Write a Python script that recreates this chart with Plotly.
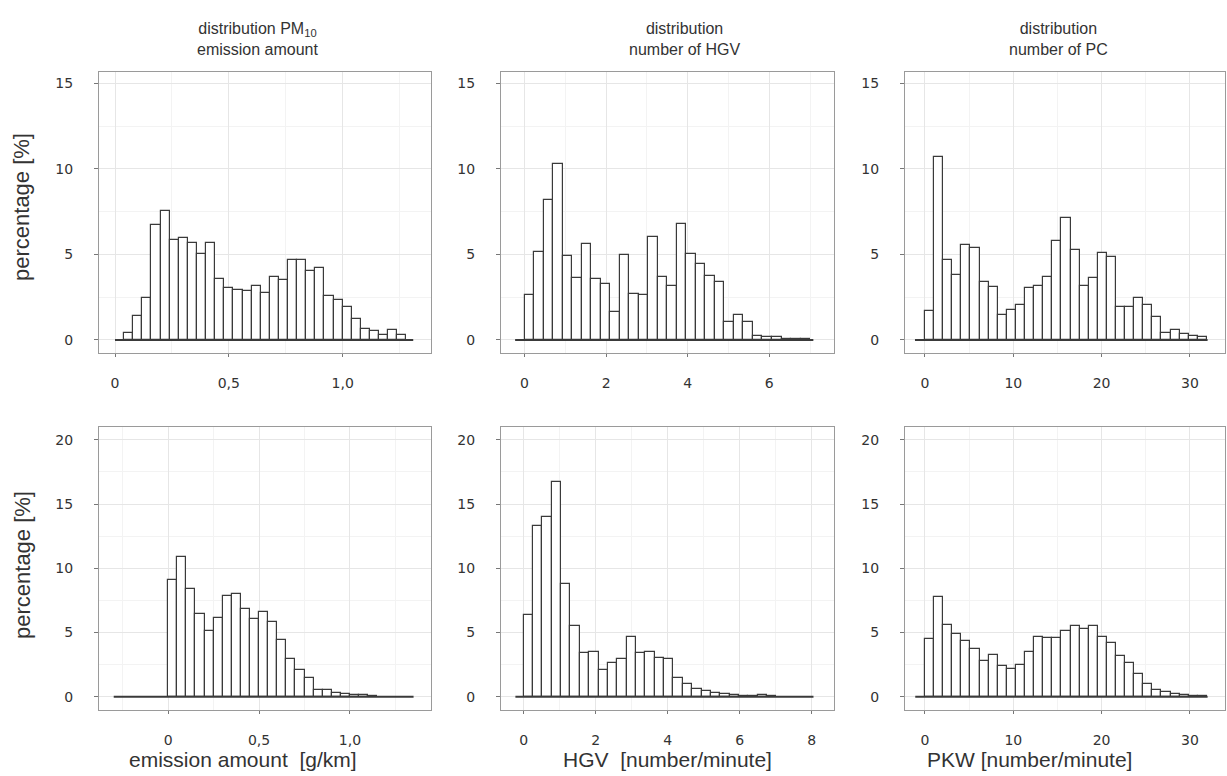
import plotly.graph_objects as go

W, H = 1227, 776

# ---------------- data (percentages) ----------------
pm10_top_start, pm10_top_width = 0.04, 0.04
pm10_top = [0.43, 1.42, 2.48, 6.73, 7.54, 5.85, 5.98, 5.65, 5.0, 5.65, 3.59, 3.02, 2.94, 2.88,
            3.18, 2.75, 3.66, 3.51, 4.70, 4.70, 4.05, 4.19, 2.59, 2.34, 1.93, 1.25, 0.62, 0.51,
            0.27, 0.58, 0.31]
pm10_top_range = [0.0, 1.31]

hgv_top_start, hgv_top_width = 0.0, 7.0 / 30
hgv_top = [2.61, 5.12, 8.2, 10.31, 4.9, 3.65, 5.59, 3.57, 3.25, 1.65, 4.98, 2.71, 2.61, 6.0,
           3.69, 3.16, 6.8, 5.0, 4.43, 3.73, 3.37, 1.08, 1.45, 1.08, 0.25, 0.18, 0.18, 0.08,
           0.04, 0.03]
hgv_top_range = [-0.23, 7.08]

pc_top_start, pc_top_width = 0.0, 1.03
pc_top = [1.70, 10.72, 4.68, 3.80, 5.54, 5.40, 3.41, 3.07, 1.47, 1.78, 2.07, 3.01, 3.13, 3.68,
          5.79, 7.10, 5.28, 3.17, 3.64, 5.07, 4.83, 1.90, 1.90, 2.47, 2.02, 1.33, 0.43, 0.59,
          0.35, 0.25, 0.20]
pc_top_range = [-1.13, 32.0]

pm10_bot_start, pm10_bot_width = 0.0, 0.05
pm10_bot = [9.09, 10.91, 8.39, 6.44, 5.12, 6.13, 7.87, 8.0, 6.86, 6.05, 6.60, 5.79, 4.44, 2.96,
            2.08, 1.43, 0.55, 0.55, 0.29, 0.21, 0.13, 0.13, 0.05]
pm10_bot_range = [-0.30, 1.35]

hgv_bot_start, hgv_bot_width = 0.0, 0.26
hgv_bot = [6.34, 13.3, 14.03, 16.75, 8.81, 5.51, 3.43, 3.48, 2.10, 2.65, 2.96, 4.68, 3.43, 3.48,
           2.99, 2.94, 1.48, 0.95, 0.62, 0.42, 0.30, 0.20, 0.12, 0.08, 0.05, 0.10, 0.03]
hgv_bot_range = [-0.23, 8.05]

pc_bot_start, pc_bot_width = 0.0, 1.03
pc_bot = [4.47, 7.77, 5.61, 4.86, 4.34, 3.71, 2.81, 3.25, 2.39, 2.18, 2.44, 3.45, 4.65, 4.55,
          4.60, 5.12, 5.51, 5.30, 5.51, 4.65, 4.21, 3.19, 2.60, 1.79, 1.0, 0.55, 0.35, 0.22,
          0.12, 0.06, 0.03]
pc_bot_range = [-1.1, 32.0]

pm10_ticks = [0, 0.5, 1.0]
pm10_ticktext = ["0", "0,5", "1,0"]
hgv_top_ticks = [0, 2, 4, 6]
hgv_bot_ticks = [0, 2, 4, 6, 8]
pc_ticks = [0, 10, 20, 30]
y_top_ticks = [0, 5, 10, 15]
y_bot_ticks = [0, 5, 10, 15, 20]

col_titles = ["distribution PM<sub>10</sub><br>emission amount",
              "distribution<br>number of HGV",
              "distribution<br>number of PC"]
x_titles = ["emission amount&nbsp;&nbsp;[g/km]", "HGV&nbsp;&nbsp;[number/minute]",
            "PKW [number/minute]"]
y_title = "percentage [%]"

# ---------------- layout geometry (pixels) ----------------
cols_px = [(99, 431), (501, 834), (905, 1225)]
rows_px = [(72, 353), (427, 710)]

panels = [
    (0, 0, pm10_top_start, pm10_top_width, pm10_top, pm10_top_range, [-0.0703, 1.388],
     pm10_ticks, pm10_ticktext, [0.25, 0.75, 1.25]),
    (0, 1, hgv_top_start, hgv_top_width, hgv_top, hgv_top_range, [-0.576, 7.586],
     hgv_top_ticks, [str(v) for v in hgv_top_ticks], [1, 3, 5, 7]),
    (0, 2, pc_top_start, pc_top_width, pc_top, pc_top_range, [-2.26, 33.97],
     pc_ticks, [str(v) for v in pc_ticks], [5, 15, 25]),
    (1, 0, pm10_bot_start, pm10_bot_width, pm10_bot, pm10_bot_range, [-0.381, 1.446],
     pm10_ticks, pm10_ticktext, [-0.25, 0.25, 0.75, 1.25]),
    (1, 1, hgv_bot_start, hgv_bot_width, hgv_bot, hgv_bot_range, [-0.63, 8.62],
     hgv_bot_ticks, [str(v) for v in hgv_bot_ticks], [1, 3, 5, 7]),
    (1, 2, pc_bot_start, pc_bot_width, pc_bot, pc_bot_range, [-2.26, 33.97],
     pc_ticks, [str(v) for v in pc_ticks], [5, 15, 25]),
]

yranges = [[-0.76, 15.66], [-1.04, 21.0]]
yticks = [y_top_ticks, y_bot_ticks]
yminor = [[2.5, 7.5, 12.5], [2.5, 7.5, 12.5, 17.5]]

fig = go.Figure()
layout = {}
font_ticks = dict(family="DejaVu Sans", size=14, color="#333333")
edge = "#3a3a3a"

for idx, (r, c, start, width, vals, brange, xr, xt, xtt, xmin) in enumerate(panels):
    n = idx + 1
    xa = "x" if n == 1 else f"x{n}"
    ya = "y" if n == 1 else f"y{n}"
    centers = [start + width * (i + 0.5) for i in range(len(vals))]
    fig.add_trace(go.Scatter(x=brange, y=[0, 0], mode="lines",
                             line=dict(color=edge, width=2), xaxis=xa, yaxis=ya,
                             showlegend=False, hoverinfo="skip"))
    fig.add_trace(go.Bar(x=centers, y=vals, width=width, xaxis=xa, yaxis=ya,
                         marker=dict(color="white", line=dict(color=edge, width=1.2)),
                         showlegend=False))
    x0, x1 = cols_px[c]
    y0, y1 = rows_px[r]
    xkey = "xaxis" if n == 1 else f"xaxis{n}"
    ykey = "yaxis" if n == 1 else f"yaxis{n}"
    layout[xkey] = dict(domain=[x0 / W, x1 / W], range=xr, anchor=ya,
                        tickmode="array", tickvals=xt, ticktext=xtt,
                        showline=True, mirror=True, linecolor="#9a9a9a", linewidth=1,
                        ticks="outside", ticklen=3, tickcolor="#777", tickwidth=1,
                        ticklabelstandoff=14, tickfont=font_ticks,
                        showgrid=True, gridcolor="#e6e6e6", gridwidth=1, zeroline=False,
                        minor=dict(tickvals=xmin, showgrid=True, gridcolor="#f3f3f3",
                                   ticks=""),
                        fixedrange=True)
    layout[ykey] = dict(domain=[1 - y1 / H, 1 - y0 / H], range=yranges[r], anchor=xa,
                        tickmode="array", tickvals=yticks[r],
                        ticktext=[str(v) for v in yticks[r]],
                        showline=True, mirror=True, linecolor="#9a9a9a", linewidth=1,
                        ticks="outside", ticklen=4, tickcolor="#777", tickwidth=1,
                        ticklabelstandoff=18, tickfont=font_ticks,
                        showgrid=True, gridcolor="#e6e6e6", gridwidth=1, zeroline=False,
                        minor=dict(tickvals=yminor[r], showgrid=True, gridcolor="#f3f3f3",
                                   ticks=""),
                        fixedrange=True)

annotations = []
title_x = [258, 684, 1058]
for i, t in enumerate(col_titles):
    annotations.append(dict(text=t, x=title_x[i] / W, y=1 - 39 / H, xref="paper", yref="paper",
                            showarrow=False, xanchor="center", yanchor="middle",
                            font=dict(family="Liberation Sans", size=16, color="#333333"),
                            align="center"))
xt_x = [243, 667, 1029]
for i, t in enumerate(x_titles):
    annotations.append(dict(text=t, x=xt_x[i] / W, y=1 - 759 / H, xref="paper", yref="paper",
                            showarrow=False, xanchor="center", yanchor="middle",
                            font=dict(family="Liberation Sans", size=21, color="#333333")))
for yc in [207, 565]:
    annotations.append(dict(text=y_title, x=22 / W, y=1 - yc / H, xref="paper", yref="paper",
                            showarrow=False, xanchor="center", yanchor="middle", textangle=-90,
                            font=dict(family="Liberation Sans", size=22, color="#333333")))

fig.update_layout(width=W, height=H, margin=dict(l=0, r=0, t=0, b=0),
                  paper_bgcolor="white", plot_bgcolor="white", bargap=0,
                  annotations=annotations, **layout)

fig.write_html("out.html", config={"displayModeBar": False},
               post_script="document.body.style.margin='0';document.body.style.overflow='hidden';")
